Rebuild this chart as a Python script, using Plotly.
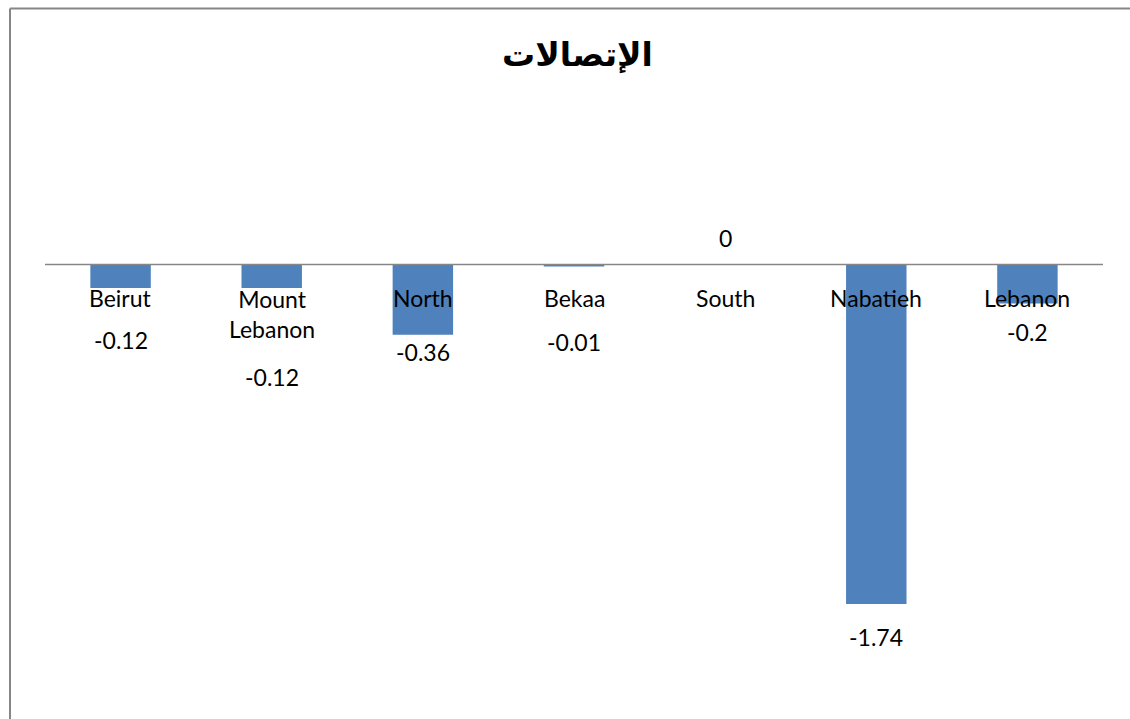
import plotly.graph_objects as go

categories = ["Beirut", "Mount<br>Lebanon", "North", "Bekaa", "South", "Nabatieh", "Lebanon"]
values = [-0.12, -0.12, -0.36, -0.01, 0, -1.74, -0.2]
value_labels = ["-0.12", "-0.12", "-0.36", "-0.01", "0", "-1.74", "-0.2"]
title_text = "الإتصالات"

# pixel offsets of data labels relative to bar end (Excel's collision-avoided placement)
label_shifts = [-52, -89, -17, -75.5, 26.5, -33, -28.5]
cat_shifts = [-33.5, -49.5, -33.5, -33.5, -33.5, -33.5, -33.5]

W, H = 1130, 719
zero_px = 264.5
px_per_unit = 195.1
y_top = zero_px / px_per_unit
y_bot = -(H - zero_px) / px_per_unit

def px_x(x):
    return x / W

def px_y(y):
    return 1 - y / H

BAR = "#4F81BD"
GRAY = "#868686"
FONT = "Lato, Carlito, Calibri, sans-serif"

fig = go.Figure()
fig.add_trace(go.Bar(x=categories, y=values, marker=dict(color=BAR, line=dict(width=0)),
                     hoverinfo="skip"))

annotations = []
for c, v, t, s in zip(categories, values, value_labels, label_shifts):
    annotations.append(dict(x=c, y=v, text=t, showarrow=False, yshift=s,
                            xanchor="center", yanchor="middle",
                            font=dict(family=FONT, size=23, color="#000000")))
for c, s in zip(categories, cat_shifts):
    annotations.append(dict(x=c, y=0, text=c, showarrow=False, yshift=s,
                            xanchor="center", yanchor="middle",
                            font=dict(family=FONT, size=23, color="#000000")))
annotations.append(dict(x=px_x(577), y=px_y(55), xref="paper", yref="paper",
                        text="<b>" + title_text + "</b>", showarrow=False,
                        xanchor="center", yanchor="middle",
                        font=dict(family="Arial, DejaVu Sans, sans-serif", size=33, color="#000000")))

shapes = [
    dict(type="line", xref="paper", yref="y", x0=px_x(45), x1=px_x(1103), y0=0, y1=0,
         line=dict(color=GRAY, width=1.5), layer="above"),
    dict(type="line", xref="paper", yref="paper", x0=px_x(10), x1=1, y0=px_y(8.5), y1=px_y(8.5),
         line=dict(color=GRAY, width=2)),
    dict(type="line", xref="paper", yref="paper", x0=px_x(10), x1=px_x(10), y0=0, y1=px_y(8.5),
         line=dict(color=GRAY, width=2)),
]

fig.update_layout(
    width=W, height=H,
    margin=dict(l=0, r=0, t=0, b=0),
    paper_bgcolor="white", plot_bgcolor="white",
    showlegend=False,
    bargap=0.6,
    xaxis=dict(domain=[px_x(45), px_x(1103)], showticklabels=False, showgrid=False,
               zeroline=False, showline=False, ticks="", fixedrange=True),
    yaxis=dict(range=[y_bot, y_top], showticklabels=False, showgrid=False,
               zeroline=False, showline=False, ticks="", fixedrange=True),
    annotations=annotations,
    shapes=shapes,
)

fig.write_html(
    "out.html",
    config={"displayModeBar": False},
    post_script="document.body.style.margin='0';document.body.style.overflow='hidden';",
)
